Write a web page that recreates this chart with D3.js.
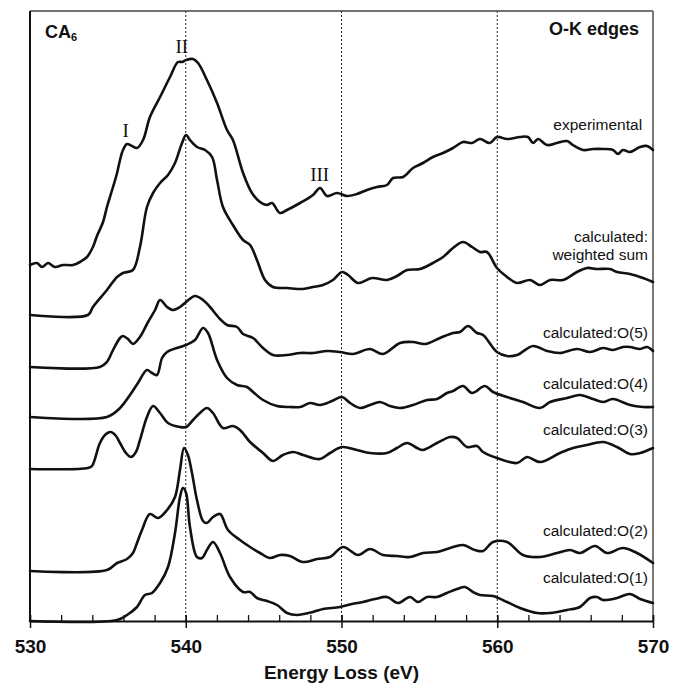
<!DOCTYPE html>
<html>
<head>
<meta charset="utf-8">
<script src="https://cdn.jsdelivr.net/npm/d3@7/dist/d3.min.js"></script>
<style>
body{margin:0;background:#fff;}
text{font-family:"Liberation Sans",Arial,Helvetica,sans-serif;}
</style>
</head>
<body>
<svg id="chart" width="674" height="689"></svg>
<script>
// energy loss (eV), intensity (a.u., spectra offset as in the figure)
const experimental = [[530.0,356],[530.45,358],[530.77,354],[531.16,358],[531.6,354],[532.12,356],[532.76,356],[533.21,359],[533.66,364],[534.04,374],[534.3,385],[534.69,399],[534.94,414],[535.33,434],[535.59,448],[535.78,461],[535.97,471],[536.23,477],[536.55,475],[536.87,473],[537.26,481],[537.7,504],[538.35,524],[538.99,544],[539.5,559],[539.76,559],[540.02,561],[540.47,562],[540.79,558],[541.36,541],[542.01,518],[542.65,491],[543.03,481],[543.68,448],[544.25,428],[544.77,419],[545.22,416],[545.54,418],[546.05,408],[546.5,411],[547.34,418],[548.17,426],[548.62,433],[549.07,425],[549.71,428],[550.35,425],[550.99,427],[551.64,431],[552.28,434],[552.92,436],[553.31,443],[553.95,444],[554.59,453],[555.23,458],[555.87,464],[556.52,468],[557.16,473],[557.8,479],[558.38,478],[558.89,482],[559.53,478],[559.98,484],[560.63,482],[561.46,484],[561.97,484],[562.3,478],[562.62,482],[563.19,476],[563.84,478],[564.48,480],[564.86,476],[565.51,471],[566.15,472],[566.79,472],[567.43,471],[567.75,467],[568.07,471],[568.52,469],[569.17,474],[569.62,475],[570.0,471]];

const weighted_sum = [[530.0,306],[533.72,306],[534.04,314],[534.94,331],[535.59,344],[535.97,348],[536.61,351],[537.06,374],[537.51,414],[537.9,428],[538.35,438],[538.86,446],[539.31,458],[539.76,478],[540.02,486],[540.27,481],[540.72,474],[541.24,471],[541.69,464],[542.01,441],[542.39,414],[543.03,396],[543.68,381],[544.13,376],[544.57,361],[545.09,341],[545.6,334],[546.5,333],[547.53,332],[548.17,334],[548.81,336],[549.45,341],[550.03,349],[550.42,346],[551.06,338],[551.96,343],[552.92,341],[553.56,345],[554.21,351],[555.04,352],[555.87,358],[556.52,364],[557.16,373],[557.8,379],[558.38,374],[558.89,369],[559.34,369],[559.98,353],[560.63,344],[561.27,338],[562.1,341],[562.75,336],[563.39,341],[564.22,341],[565.12,349],[565.76,353],[566.4,352],[567.24,352],[567.69,349],[568.52,347],[569.36,343],[570.0,339]];

const o5 = [[530.0,254],[534.49,254],[534.94,259],[535.33,271],[535.78,283],[535.97,285],[536.29,282],[536.61,277],[537.06,284],[537.58,299],[538.03,311],[538.35,321],[538.8,314],[539.18,311],[539.63,314],[540.02,319],[540.59,325],[541.11,321],[541.56,314],[542.2,302],[542.65,296],[543.29,294],[543.68,287],[544.32,283],[544.96,273],[545.6,266],[546.5,266],[547.34,268],[548.17,268],[549.07,270],[549.9,269],[550.74,267],[551.83,272],[552.66,267],[553.76,278],[554.59,279],[555.36,277],[556.32,283],[557.16,288],[557.61,289],[558.12,295],[558.7,288],[559.09,286],[559.98,269],[560.63,265],[561.27,266],[562.3,275],[563.19,270],[564.03,268],[565.12,272],[565.96,269],[566.79,273],[567.43,271],[568.07,274],[568.52,274],[569.17,272],[569.62,274],[570.0,270]];

const o4 = [[530.0,204],[534.94,204],[535.78,213],[536.42,226],[536.93,238],[537.51,251],[537.83,248],[538.15,246],[538.48,263],[538.8,269],[539.63,274],[540.02,276],[540.59,281],[541.11,293],[541.43,288],[542.01,261],[542.65,243],[543.29,236],[543.93,234],[544.32,229],[544.96,221],[545.86,215],[546.69,214],[547.34,214],[547.98,218],[548.62,216],[549.39,220],[550.03,224],[550.55,218],[551.19,213],[551.83,216],[552.47,219],[553.11,215],[553.76,213],[554.59,216],[555.49,221],[556.13,222],[556.77,228],[557.16,230],[557.8,235],[558.38,228],[559.21,235],[559.73,229],[560.63,224],[561.65,219],[562.75,213],[563.39,219],[564.48,223],[565.31,226],[566.15,222],[566.79,219],[567.43,222],[568.52,216],[569.36,214],[570.0,214]];

const o3 = [[530.0,152],[533.72,153],[533.98,155],[534.49,178],[534.88,187],[535.2,189],[535.52,185],[535.78,178],[536.16,168],[536.48,164],[536.8,169],[537.06,181],[537.51,204],[537.9,215],[538.35,208],[538.86,198],[539.63,194],[540.02,194],[540.47,201],[540.91,208],[541.36,213],[541.75,208],[542.39,193],[543.03,195],[543.48,191],[544.13,179],[544.96,168],[545.6,160],[546.24,166],[546.89,169],[547.53,166],[548.62,162],[549.26,168],[550.03,174],[550.99,171],[551.83,168],[552.92,168],[553.56,173],[554.21,178],[554.85,173],[555.23,171],[556.13,178],[556.97,184],[557.42,183],[558.06,174],[558.7,175],[559.09,169],[559.98,163],[561.27,158],[561.91,164],[562.75,159],[564.03,168],[564.86,173],[565.76,176],[566.79,179],[567.69,174],[568.52,167],[569.17,168],[570.0,173]];

const o2 = [[530.0,50],[534.94,51],[535.59,58],[536.23,62],[536.61,68],[536.87,78],[537.19,91],[537.7,107],[538.22,103],[538.8,111],[539.31,124],[539.63,151],[539.89,173],[540.14,166],[540.4,148],[540.72,121],[541.11,100],[541.36,98],[541.75,104],[542.2,107],[542.71,91],[543.48,81],[544.13,74],[544.77,68],[545.41,63],[546.05,66],[546.69,65],[547.53,59],[548.43,62],[549.26,64],[550.1,74],[551.06,66],[551.83,72],[552.66,66],[553.56,65],[554.4,64],[555.23,68],[556.13,69],[556.97,73],[557.8,76],[558.57,71],[559.09,70],[559.73,79],[560.63,79],[561.65,66],[562.75,64],[563.84,68],[564.67,71],[565.31,68],[566.28,75],[567.05,68],[568.07,73],[568.97,68],[570.0,58]];

const o1 = [[530.0,0],[535.59,1],[536.23,6],[536.87,14],[537.38,26],[537.83,28],[538.35,38],[538.86,54],[539.31,88],[539.63,124],[539.82,133],[540.02,128],[540.27,94],[540.72,64],[541.04,63],[541.36,71],[541.75,79],[542.2,68],[542.84,44],[543.68,29],[544.13,29],[544.57,23],[545.22,20],[545.86,16],[546.5,8],[547.14,6],[548.17,9],[548.81,12],[549.9,14],[550.67,17],[551.38,19],[552.15,22],[552.92,24],[553.63,18],[554.4,24],[554.91,19],[555.49,24],[556.13,24],[556.77,28],[557.42,32],[557.93,34],[558.44,29],[558.89,26],[559.73,25],[560.63,19],[561.46,13],[562.55,8],[563.39,8],[564.48,11],[565.31,14],[565.96,23],[566.4,24],[566.79,21],[567.69,23],[568.52,27],[569.17,22],[570.0,18]];

const spectra = [experimental, weighted_sum, o5, o4, o3, o2, o1];
const curve_labels = [["experimental"],["calculated:","weighted sum"],["calculated:O(5)"],["calculated:O(4)"],["calculated:O(3)"],["calculated:O(2)"],["calculated:O(1)"]];
const peak_labels = ["I","II","III"];
const peak_energies = [536.15, 539.75, 548.6];
const major_ticks = [530,540,550,560,570];
const grid_values = [540,550,560];

const svg = d3.select("#chart");
const x = d3.scaleLinear().domain([530,570]).range([30,653]);
const y = d3.scaleLinear().domain([0,610]).range([621,11]);

// dashed grid
svg.append("g").selectAll("line").data(grid_values).join("line")
    .attr("x1",d=>x(d)).attr("x2",d=>x(d))
    .attr("y1",y(610)).attr("y2",y(0))
    .attr("stroke","#222").attr("stroke-width",1)
    .attr("stroke-dasharray","2,2");

// frame
svg.append("line").attr("x1",x(530)).attr("x2",x(570)).attr("y1",y(610)).attr("y2",y(610))
    .attr("stroke","#444").attr("stroke-width",1.5);
svg.append("line").attr("x1",x(570)).attr("x2",x(570)).attr("y1",y(610)).attr("y2",y(0))
    .attr("stroke","#777").attr("stroke-width",2);
svg.append("line").attr("x1",x(530)).attr("x2",x(530)).attr("y1",y(610)).attr("y2",y(0))
    .attr("stroke","#111").attr("stroke-width",2);

// minor ticks pointing in
const minor_axis = svg.append("g").attr("transform","translate(0,"+y(0)+")")
    .call(d3.axisBottom(x).tickValues(d3.range(530,571,2)).tickSize(-6).tickSizeOuter(0).tickFormat(""));
minor_axis.select(".domain").remove();
minor_axis.selectAll("line").attr("stroke","#111").attr("stroke-width",1.3);

const major_axis = svg.append("g").attr("transform","translate(0,"+y(0)+")")
    .call(d3.axisBottom(x).tickValues(major_ticks).tickSize(7).tickSizeOuter(0).tickFormat(d3.format("d")));
major_axis.select(".domain").attr("stroke","#111").attr("stroke-width",2);
major_axis.selectAll("line").attr("stroke","#111").attr("stroke-width",1.5).attr("y1",-6);
major_axis.selectAll("text").attr("y",32).attr("dy",0)
    .style("font-size","19px").style("font-weight","bold").attr("fill","#111")
    .style("font-family","'Liberation Sans',Arial,sans-serif");

svg.append("text").attr("x",(x(530)+x(570))/2).attr("y",679)
    .attr("text-anchor","middle").style("font-size","19px").style("font-weight","bold")
    .attr("fill","#111").text("Energy Loss (eV)");

// spectra
const line = d3.line().x(d=>x(d[0])).y(d=>y(d[1])).curve(d3.curveCatmullRom.alpha(0.5));
svg.append("g").selectAll("path").data(spectra).join("path")
    .attr("d",line).attr("fill","none").attr("stroke","#111")
    .attr("stroke-width",2.6).attr("stroke-linejoin","round").attr("stroke-linecap","round");

// spectrum names
const label_pos = [[569.3,491],[569.68,379],[569.68,283],[569.68,232],[569.68,186],[569.68,85],[569.68,38]];
curve_labels.forEach(function(lines,i){
    const t = svg.append("text").attr("text-anchor","end")
        .attr("x",x(label_pos[i][0])).attr("y",y(label_pos[i][1]))
        .style("font-size","15.5px").attr("fill","#111");
    lines.forEach(function(s,j){
        t.append("tspan").attr("x",x(label_pos[i][0])).attr("dy",j==0?0:18).text(s);
    });
});

// peak markers
const peak_y = [484,568,440];
svg.append("g").selectAll("text").data(peak_labels).join("text")
    .attr("x",(d,i)=>x(peak_energies[i])).attr("y",(d,i)=>y(peak_y[i]))
    .attr("text-anchor","middle")
    .style("font-family","'Liberation Serif','Times New Roman',serif").style("font-size","19px")
    .attr("fill","#111").text(d=>d);

// panel titles
const ca = svg.append("text").attr("x",45).attr("y",38)
    .style("font-size","18px").style("font-weight","bold").attr("fill","#111");
ca.append("tspan").text("CA");
ca.append("tspan").attr("dy",3).style("font-size","11px").text("6");
svg.append("text").attr("x",639).attr("y",35).attr("text-anchor","end")
    .style("font-size","18px").style("font-weight","bold").attr("fill","#111").text("O-K edges");
</script>
</body>
</html>
